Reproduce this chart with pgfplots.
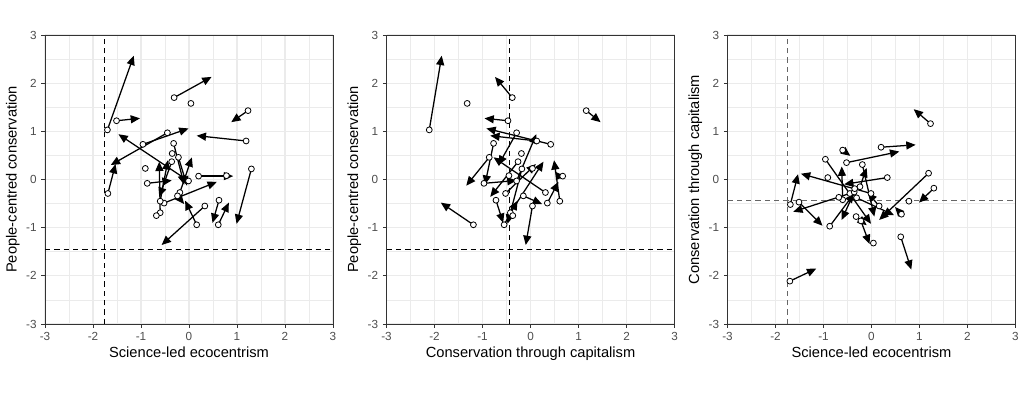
\documentclass[border=0pt]{standalone}
\usepackage{pgfplots}
\pgfplotsset{compat=1.18}
\usepackage{pgfplotstable}
\usepackage{fontspec}
\setmainfont{Liberation Sans}
\usetikzlibrary{arrows.meta}

\pgfplotstableread{
S0 P0 C0 S1 P1 C1
-1.70 1.03 -2.11 -1.15 2.57 -1.85
-1.51 1.22 -0.47 -1.02 1.27 -0.96
-0.31 1.70 -0.38 0.47 2.13 -0.74
1.23 1.43 1.16 0.88 1.19 1.46
1.19 0.80 0.13 0.16 0.91 -0.84
-0.45 0.97 -0.29 -1.63 0.30 -0.67
-0.96 0.73 0.42 -0.01 1.06 -0.92
-1.69 -0.29 -0.52 -1.53 0.32 0.11
-0.01 -0.03 -0.29 -1.47 0.94 0.12
-0.87 -0.08 -0.97 -0.36 -0.02 -0.29
0.20 0.07 0.67 0.92 0.07 0.72
1.30 0.22 -0.18 0.99 -0.92 -0.48
0.625 -0.43 -0.72 0.49 -0.90 -0.57
0.61 -0.94 -1.19 0.83 -0.48 -1.87
0.16 -0.94 -0.55 -0.08 -0.44 -0.27
0.33 -0.55 0.04 -0.57 -1.36 -0.10
-0.52 -0.49 0.35 0.58 -0.05 0.58
-0.60 -0.45 0.61 -0.44 0.40 0.49
-0.19 -0.27 0.31 0.06 0.46 -0.77
-0.36 0.37 -0.26 -0.62 -0.36 -0.84
-0.22 0.46 -0.86 -0.04 -0.13 -1.34
-0.32 0.75 -0.77 -0.10 -0.11 -0.95
-0.60 -0.69 -0.42 -0.62 0.37 0.27
-0.24 -0.34 -0.15 -0.10 -0.51 0.24
}\moves

\pgfplotstableread{
S0 P0 C0
0.04 1.58 -1.32
-0.91 0.23 0.04
0.78 0.08 -0.45
-0.35 0.54 -0.19
-0.68 -0.75 -0.37
}\static

\definecolor{grid}{HTML}{EBEBEB}
\definecolor{border}{HTML}{333333}
\definecolor{ticklab}{HTML}{4D4D4D}

\pgfplotsset{
  panel/.style={
    anchor=south west,
    width=216pt, height=216.75pt, scale only axis,
    xmin=-3, xmax=3, ymin=-3, ymax=3,
    xtick={-3,-2,-1,0,1,2,3}, ytick={-3,-2,-1,0,1,2,3},
    xticklabels={-3,-2,-1,0,1,2,3}, yticklabels={-3,-2,-1,0,1,2,3},
    minor tick num=1,
    grid=both,
    major grid style={color=grid, line width=0.8pt},
    minor grid style={color=grid, line width=0.4pt},
    minor tick length=0pt,
    major tick length=2.75pt,
    tick align=outside,
    xtick pos=bottom, ytick pos=left,
    tick style={color=border, line width=0.5pt},
    axis line style={color=border, line width=0.5pt},
    ticklabel style={font=\fontsize{8.8}{10}\selectfont, text=ticklab},
    label style={font=\fontsize{11}{13}\selectfont, text=black},
    xlabel style={yshift=2pt},
    ylabel style={yshift=-2pt},
    clip=true,
  },
  dash/.style={black, line width=0.6pt, dash pattern=on 4pt off 3pt},
  arr/.style={black, line width=0.95pt, -{Triangle[length=7pt,width=6pt]}},
  circ/.style={only marks, mark=*, mark size=2.2pt, mark options={fill=white, draw=black, line width=0.6pt}},
}

\begin{document}
\begin{tikzpicture}
\useasboundingbox (0pt,0pt) rectangle (768pt,298.5pt);

% Panel 1: S vs P
\begin{axis}[panel, at={(33.75pt,55.5pt)},
  xlabel={Science-led ecocentrism}, ylabel={People-centred conservation}]
\addplot[dash] coordinates {(-1.76,-3) (-1.76,3)};
\addplot[dash] coordinates {(-3,-1.45) (3,-1.45)};
\addplot[arr, quiver={u=\thisrow{S1}-\thisrow{S0}, v=\thisrow{P1}-\thisrow{P0}}] table[x=S0,y=P0]{\moves};
\addplot[circ] table[x=S0,y=P0]{\moves};
\addplot[circ] table[x=S0,y=P0]{\static};
\end{axis}

% Panel 2: C vs P
\begin{axis}[panel, at={(289.9pt,55.5pt)},
  xlabel={Conservation through capitalism}, ylabel={People-centred conservation}]
\addplot[dash] coordinates {(-0.44,-3) (-0.44,3)};
\addplot[dash] coordinates {(-3,-1.45) (3,-1.45)};
\addplot[arr, quiver={u=\thisrow{C1}-\thisrow{C0}, v=\thisrow{P1}-\thisrow{P0}}] table[x=C0,y=P0]{\moves};
\addplot[circ] table[x=C0,y=P0]{\moves};
\addplot[circ] table[x=C0,y=P0]{\static};
\end{axis}

% Panel 3: S vs C
\begin{axis}[panel, at={(545.6pt,55.5pt)},
  xlabel={Science-led ecocentrism}, ylabel={Conservation through capitalism}]
\addplot[dash, color=black!60] coordinates {(-1.76,-3) (-1.76,3)};
\addplot[dash, color=black!60] coordinates {(-3,-0.44) (3,-0.44)};
\addplot[arr, quiver={u=\thisrow{S1}-\thisrow{S0}, v=\thisrow{C1}-\thisrow{C0}}] table[x=S0,y=C0]{\moves};
\addplot[circ] table[x=S0,y=C0]{\moves};
\addplot[circ] table[x=S0,y=C0]{\static};
\end{axis}
\end{tikzpicture}
\end{document}
